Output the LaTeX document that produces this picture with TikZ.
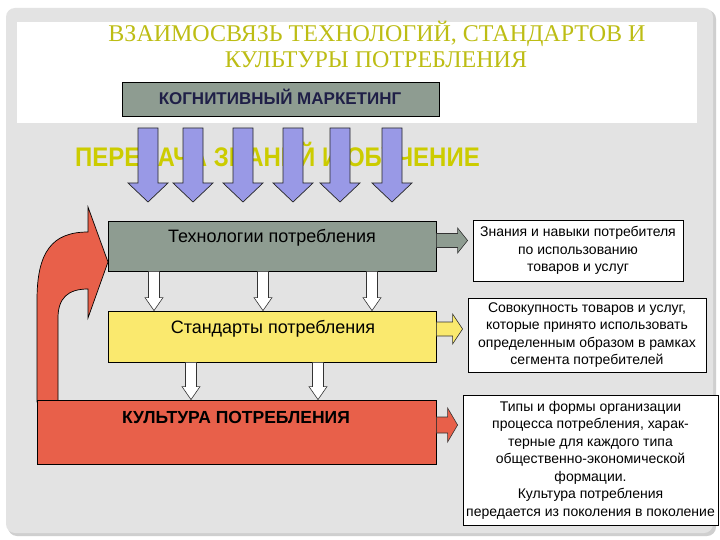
\documentclass[tikz,border=0pt]{standalone}
\usepackage{fontspec}
\setmainfont{Liberation Sans}
\newfontfamily\titleserif{Liberation Serif}
\usetikzlibrary{calc}
\definecolor{panelcol}{HTML}{E3E3E3}
\definecolor{shadowcol}{HTML}{CFCFCF}
\definecolor{kmcol}{HTML}{8E9C91}
\definecolor{kmtext}{HTML}{1F1F47}
\definecolor{techcol}{HTML}{8E9C91}
\definecolor{stdcol}{HTML}{FAE96E}
\definecolor{cultcol}{HTML}{E8604A}
\definecolor{purplecol}{HTML}{9999E6}
\definecolor{titlecol}{HTML}{BDBD14}
\definecolor{bandcol}{HTML}{CCCC00}
\tikzset{
  boxstyle/.style={draw=black, line width=0.8pt, inner sep=0pt},
  purplearr/.style={fill=purplecol, draw=black!85, line width=0.7pt},
  whitearr/.style={fill=white, draw=black!80, line width=0.6pt},
  sidebox/.style={draw=black, line width=0.8pt, fill=white, align=center, inner sep=2pt,
     font=\fontsize{14}{17.5}\selectfont},
  boxlabel/.style={anchor=base, font=\fontsize{18}{20}\selectfont},
  titlestyle/.style={anchor=base, text=titlecol, font=\titleserif\fontsize{24}{26}\selectfont},
}
% purple down block arrow at x=#1
\newcommand\purparrow[1]{%
  \draw[purplearr] (#1-10,128) -- (#1+10,128) -- (#1+10,183) -- (#1+20,183) -- (#1,202) -- (#1-20,183) -- (#1-10,183) -- cycle;}
% white connector from node #1 (south) to node #2 (north) at x=#3
\newcommand\whiteconn[3]{%
  \path[whitearr] let \p1=(#1.south), \p2=(#2.north) in
   (#3pt-5.5pt,\y1) -- (#3pt+5.5pt,\y1) -- (#3pt+5.5pt,\y2+13pt) -- (#3pt+9pt,\y2+13pt)
   -- (#3pt,\y2) -- (#3pt-9pt,\y2+13pt) -- (#3pt-5.5pt,\y2+13pt) -- cycle;}
% side block arrow from node #2 (east) toward node #3 (west): #1 fill, #4 y(px), #5 shaft half, #6 head half
\newcommand\sideconn[6]{%
  \path[fill=#1, draw=black!80, line width=0.6pt] let \p1=(#2.east), \p2=(#3.west) in
   (\x1,-#4pt+#5pt) -- (\x2-15pt,-#4pt+#5pt) -- (\x2-15pt,-#4pt+#6pt) -- (\x2-5pt,-#4pt)
   -- (\x2-15pt,-#4pt-#6pt) -- (\x2-15pt,-#4pt-#5pt) -- (\x1,-#4pt-#5pt) -- cycle;}
\begin{document}
\begin{tikzpicture}[x=1pt,y=-1pt]
\useasboundingbox (0,0) rectangle (720,540);
\fill[white] (0,0) rectangle (720,540);
% panel
\fill[shadowcol, rounded corners=9pt] (8,10) rectangle (716,536);
\fill[panelcol, rounded corners=9pt] (6,8) rectangle (713,533);
\fill[white] (17,22) rectangle (697,123);
% title
\node[titlestyle] (title1) at (377,42) {ВЗАИМОСВЯЗЬ ТЕХНОЛОГИЙ, СТАНДАРТОВ И};
\node[titlestyle] (title2) at (376,68) {КУЛЬТУРЫ ПОТРЕБЛЕНИЯ};
% cognitive marketing
\node[boxstyle, fill=kmcol, minimum width=317pt, minimum height=34pt] (km) at (280.5,99) {};
\node[anchor=base, text=kmtext, font=\bfseries\fontsize{17}{19}\selectfont] (kmlabel) at (280,105) {КОГНИТИВНЫЙ МАРКЕТИНГ};
% band text behind the arrows
\node[anchor=base, text=bandcol, font=\bfseries\fontsize{24}{26}\selectfont] (band) at (277.5,167) {\scalebox{1}[1.12]{ПЕРЕДАЧА ЗНАНИЙ И ОБУЧЕНИЕ}};
\purparrow{148}
\purparrow{193}
\purparrow{243}
\purparrow{293}
\purparrow{340}
\purparrow{392}
% curved feedback arrow
\draw[fill=cultcol, draw=black, line width=0.7pt]
  (37,402) -- (37,300) .. controls (37,252) and (52,232) .. (88,232)
  -- (88,207) -- (108,262) -- (88,318) -- (88,289)
  .. controls (68,289) and (58,298) .. (58,318) -- (58,402) -- cycle;
% main boxes
\node[boxstyle, fill=techcol, minimum width=328pt, minimum height=50pt] (tech) at (272,246) {};
\node[boxlabel] (techlabel) at (272,243) {Технологии потребления};
\node[boxstyle, fill=stdcol, minimum width=328pt, minimum height=51pt] (std) at (272,336.5) {};
\node[boxlabel] (stdlabel) at (273,333) {Стандарты потребления};
\node[boxstyle, fill=cultcol, minimum width=399pt, minimum height=64pt] (cult) at (236.5,432) {};
\node[anchor=base, font=\bfseries\fontsize{17.5}{20}\selectfont] (cultlabel) at (236,423) {КУЛЬТУРА ПОТРЕБЛЕНИЯ};
% white connectors
\whiteconn{tech}{std}{154}
\whiteconn{tech}{std}{263}
\whiteconn{tech}{std}{372}
\whiteconn{std}{cult}{191}
\whiteconn{std}{cult}{318}
% side boxes
\node[sidebox, minimum width=210pt, minimum height=61pt] (side1) at (578,250.5)
  {Знания и навыки потребителя\\по использованию\\товаров и услуг};
\node[sidebox, minimum width=238pt, minimum height=74pt] (side2) at (587,335)
  {Совокупность товаров и услуг,\\которые принято использовать\\определенным образом в рамках\\сегмента потребителей};
\node[sidebox, minimum width=255pt, minimum height=130pt] (side3) at (590.5,460)
  {Типы и формы организации\\процесса потребления, харак-\\терные для каждого типа\\общественно-экономической\\формации.\\Культура потребления\\передается из поколения в поколение};
% side arrows
\sideconn{techcol}{tech}{side1}{240.5}{7}{12.5}
\sideconn{stdcol}{std}{side2}{329}{7}{15}
\sideconn{cultcol}{cult}{side3}{425}{8}{17}
\end{tikzpicture}
\end{document}
